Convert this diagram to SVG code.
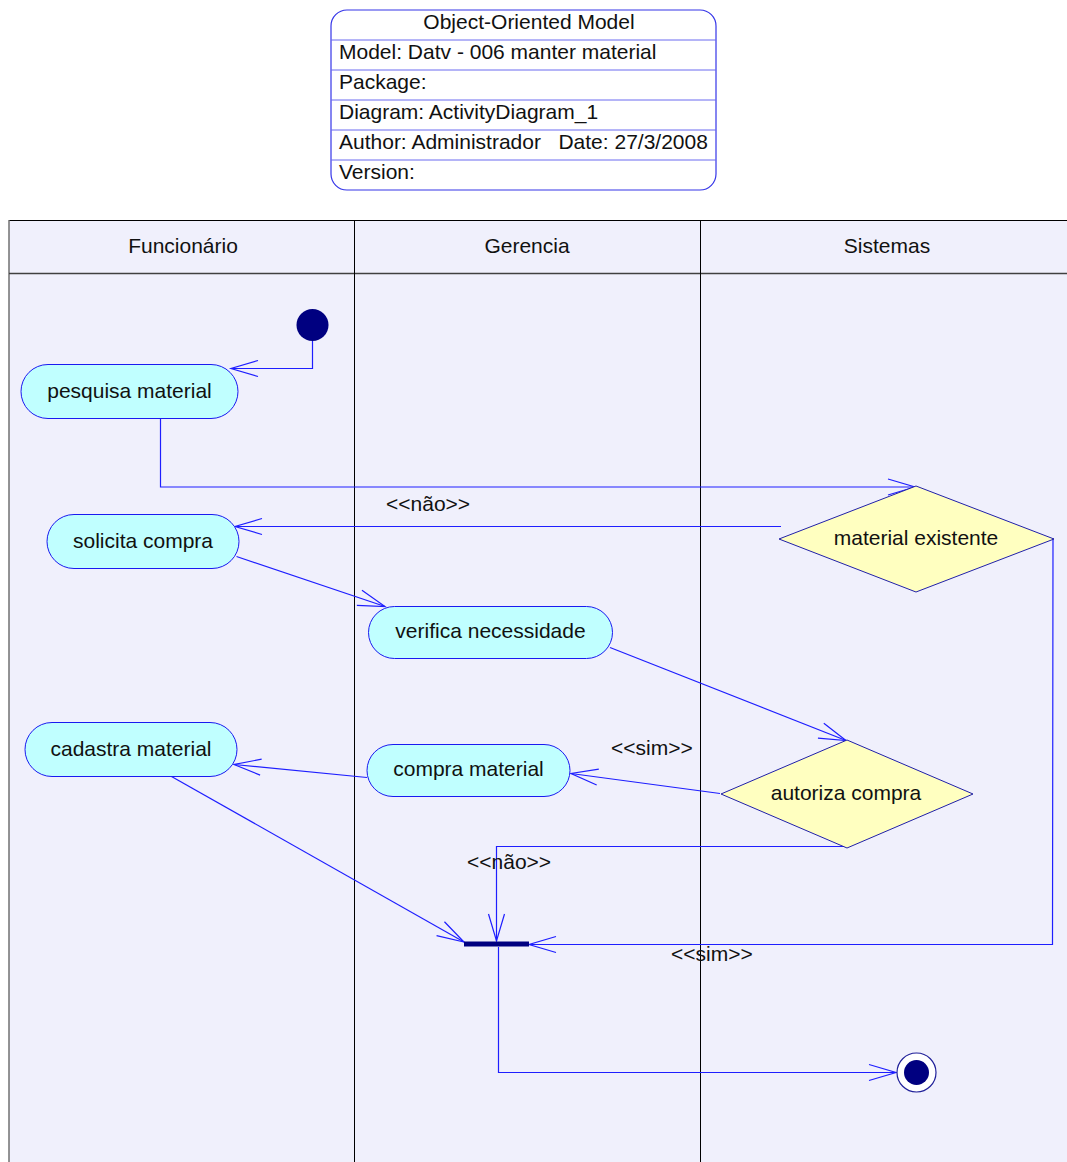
<svg xmlns="http://www.w3.org/2000/svg" width="1067" height="1162" viewBox="0 0 1067 1162">
  <defs>
    <style>
      text { font-family: "Liberation Sans", Arial, sans-serif; font-size: 21px; fill: #111; }
      .mid { text-anchor: middle; }
      .action { fill: #C0FFFF; stroke: #1A1AF0; stroke-width: 1; }
      .decision { fill: #FFFFC0; stroke: #2020A8; stroke-width: 1; }
      .flow { fill: none; stroke: #1E1EFF; stroke-width: 1.2; }
      .lane { stroke: #000; stroke-width: 1; }
    </style>
    <marker id="open" markerUnits="userSpaceOnUse" markerWidth="40" markerHeight="40" refX="0" refY="0" viewBox="-30 -20 40 40" orient="auto" overflow="visible">
      <path d="M -27 -8 L 0 0 L -27 8" fill="none" stroke="#1E1EFF" stroke-width="1.2"/>
    </marker>
  </defs>

  <rect width="1067" height="1162" fill="#FFFFFF"/>

  <!-- title block -->
  <g id="title-block">
    <rect x="331" y="10" width="385" height="180" rx="16" fill="#FFFFFF" stroke="#3535E8" stroke-width="1.2"/>
    <g stroke="#6A6AF0" stroke-width="1">
      <line x1="331" y1="40" x2="716" y2="40"/>
      <line x1="331" y1="70" x2="716" y2="70"/>
      <line x1="331" y1="100" x2="716" y2="100"/>
      <line x1="331" y1="130" x2="716" y2="130"/>
      <line x1="331" y1="160" x2="716" y2="160"/>
    </g>
    <text class="mid" x="529" y="29" font-size="20.5">Object-Oriented Model</text>
    <text x="339" y="59" font-size="20.5">Model: Datv - 006 manter material</text>
    <text x="339" y="89" font-size="20.5">Package:</text>
    <text x="339" y="119" font-size="20.5">Diagram: ActivityDiagram_1</text>
    <text x="339" y="149" font-size="20.5" xml:space="preserve">Author: Administrador   Date: 27/3/2008</text>
    <text x="339" y="179" font-size="20.5">Version:</text>
  </g>

  <!-- swimlanes -->
  <g id="swimlanes">
    <rect x="9" y="220" width="1070" height="950" fill="#F0F0FC"/>
    <line x1="9" y1="220.5" x2="1067" y2="220.5" class="lane"/>
    <line x1="9" y1="220" x2="9" y2="1162" stroke="#707070" stroke-width="1.5"/>
    <line x1="9" y1="273.5" x2="1067" y2="273.5" stroke="#404040" stroke-width="1.5"/>
    <line x1="354.5" y1="220" x2="354.5" y2="1162" class="lane"/>
    <line x1="700.5" y1="220" x2="700.5" y2="1162" class="lane"/>
    <text class="mid" x="183" y="253" font-size="20.5">Funcionário</text>
    <text class="mid" x="527" y="253" font-size="20.5">Gerencia</text>
    <text class="mid" x="887" y="253" font-size="20.5">Sistemas</text>
  </g>

  <!-- connectors -->
  <g id="connectors">
    <polyline class="flow" points="312.5,341 312.5,368.5 231,368.5" marker-end="url(#open)"/>
    <polyline class="flow" points="160.5,418 160.5,487 915,487" marker-end="url(#open)"/>
    <polyline class="flow" points="781,526.5 235,526.5" marker-end="url(#open)"/>
    <polyline class="flow" points="236.5,556.5 385,606.5" marker-end="url(#open)"/>
    <polyline class="flow" points="610,647.5 846,740.5" marker-end="url(#open)"/>
    <polyline class="flow" points="720,793.5 571,773.5" marker-end="url(#open)"/>
    <polyline class="flow" points="367,777.5 234,764.5" marker-end="url(#open)"/>
    <polyline class="flow" points="171.5,776.5 464,942" marker-end="url(#open)"/>
    <polyline class="flow" points="846,846.5 496.5,846.5 496.5,941" marker-end="url(#open)"/>
    <polyline class="flow" points="1053,538 1052.5,944.5 529,944.5" marker-end="url(#open)"/>
    <polyline class="flow" points="498.5,947 498.5,1072.5 896,1072.5" marker-end="url(#open)"/>
    <text x="386" y="511" font-size="20">&lt;&lt;não&gt;&gt;</text>
    <text x="611" y="755" font-size="20">&lt;&lt;sim&gt;&gt;</text>
    <text x="467" y="869" font-size="20">&lt;&lt;não&gt;&gt;</text>
    <text x="671" y="961" font-size="20">&lt;&lt;sim&gt;&gt;</text>
  </g>

  <!-- nodes -->
  <g id="start">
    <circle cx="312.5" cy="325" r="16" fill="#000080"/>
  </g>
  <g id="pesquisa-material">
    <rect class="action" x="21" y="364.5" width="217" height="54" rx="27"/>
    <text class="mid" x="129.5" y="398">pesquisa material</text>
  </g>
  <g id="solicita-compra">
    <rect class="action" x="47" y="514.5" width="192" height="54" rx="27"/>
    <text class="mid" x="143" y="548">solicita compra</text>
  </g>
  <g id="verifica-necessidade">
    <rect class="action" x="368.5" y="606.5" width="244" height="52" rx="26"/>
    <text class="mid" x="490.5" y="638">verifica necessidade</text>
  </g>
  <g id="cadastra-material">
    <rect class="action" x="25" y="722.5" width="212" height="54" rx="27"/>
    <text class="mid" x="131" y="756">cadastra material</text>
  </g>
  <g id="compra-material">
    <rect class="action" x="367" y="744.5" width="203" height="52" rx="26"/>
    <text class="mid" x="468.5" y="776">compra material</text>
  </g>
  <g id="material-existente">
    <polygon class="decision" points="916,486 1054,539 916,592 779,539"/>
    <text class="mid" x="916" y="545">material existente</text>
  </g>
  <g id="autoriza-compra">
    <polygon class="decision" points="847,740 973,794 847,848 721,794"/>
    <text class="mid" x="846" y="800">autoriza compra</text>
  </g>
  <g id="sync-bar">
    <rect x="464" y="941.5" width="65" height="5" fill="#000080"/>
  </g>
  <g id="end">
    <circle cx="916.5" cy="1072.5" r="19.5" fill="#FFFFFF" stroke="#20209A" stroke-width="1.2"/>
    <circle cx="916.5" cy="1072.5" r="12.5" fill="#000080"/>
  </g>
</svg>
